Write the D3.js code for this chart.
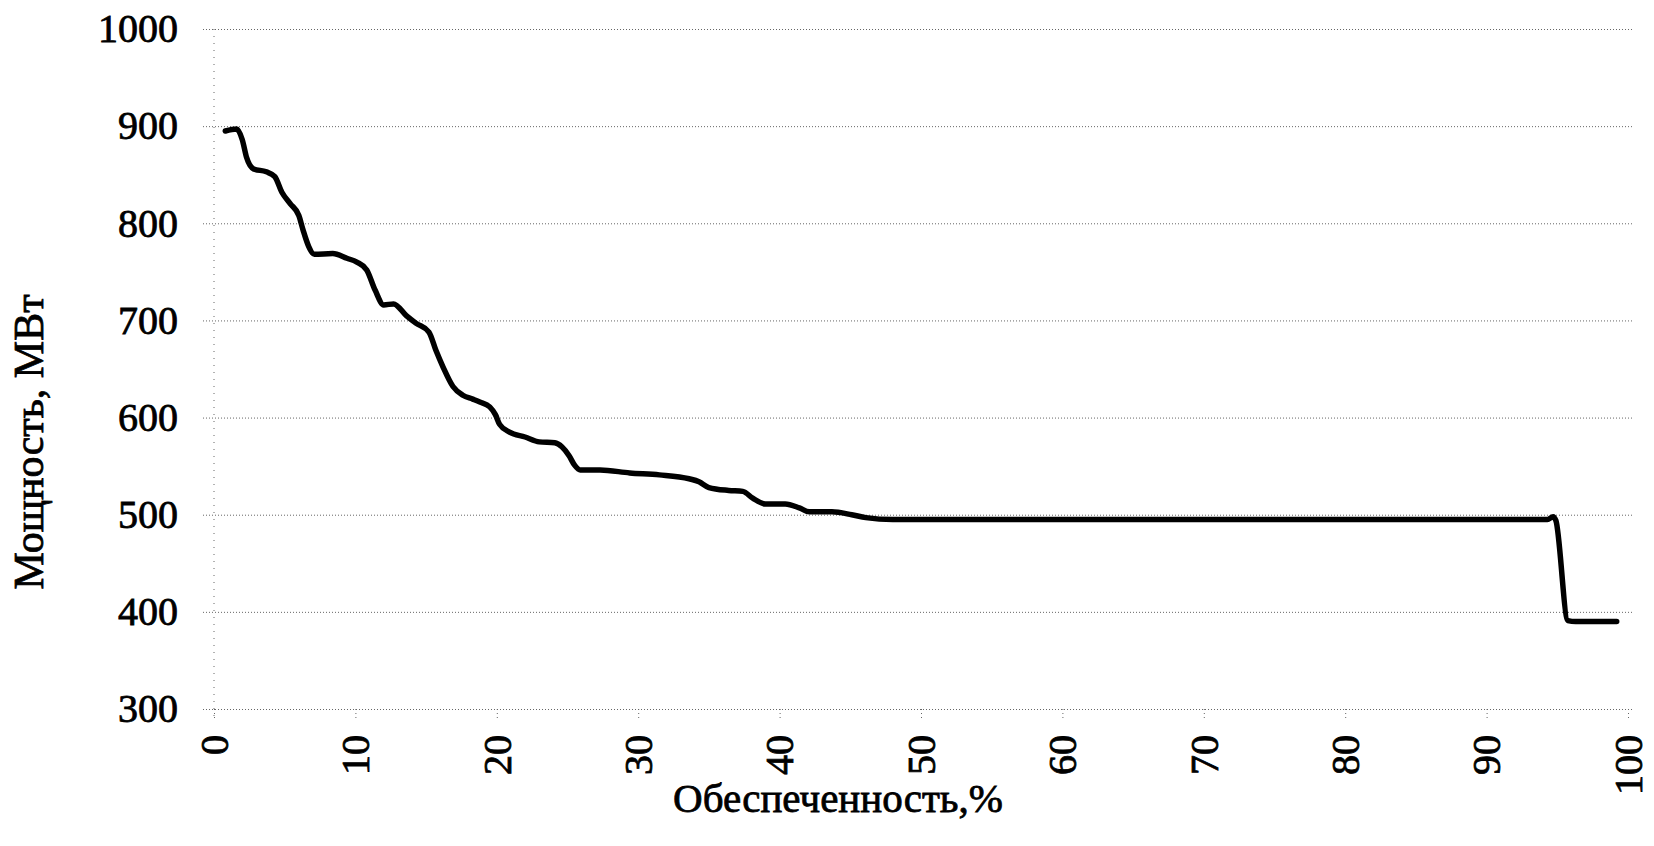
<!DOCTYPE html>
<meta charset="utf-8">
<html>
  <head>
    <!-- Load d3.js -->
    <script src="https://d3js.org/d3.v7.min.js"></script>
    <style>
      body { margin: 0; background: #fff; }
      text { font-family: "Liberation Serif", "Times New Roman", serif; fill: #000; stroke: #000; stroke-width: 0.8px; }
    </style>
  </head>
  <body>
    <svg id="viz" width=1654 height=846></svg>
    <script>
    // Обеспеченность, % (x) and Мощность, МВт (y)
    const supply = [0.8, 1.6, 2.0, 2.3, 2.8, 3.7, 4.3, 4.8, 5.4, 6.0, 6.3, 6.7, 7.1, 8.4, 9.4, 10.1, 10.8, 11.4, 12.0, 12.7,
                    13.6, 14.3, 15.2, 15.7, 16.2, 16.9, 17.6, 18.3, 18.8, 19.5, 19.9, 20.2, 20.9, 22.0, 23.0, 24.1, 24.6, 25.1, 25.5, 25.9,
                    27.3, 29.4, 31.5, 33.6, 34.3, 35.0, 36.4, 37.4, 38.1, 39.0, 40.4, 41.4, 42.1, 43.7, 45.1, 46.1, 48.0, 60.0, 80.0, 94.3,
                    94.7, 94.9, 95.75, 96.3, 99.2];
    const power  = [895, 897, 886, 868, 856, 853, 848, 832, 820, 808, 793, 776, 768, 769, 764, 760, 752, 731, 716, 717,
                    705, 697, 688, 669, 652, 632, 623, 619, 616, 611, 603, 593, 585, 580, 575, 574, 570, 561, 551, 546,
                    546, 543, 541, 537, 534, 528, 525, 524, 517, 511, 511, 507, 503, 503, 500, 497, 495, 495, 495, 495,
                    498, 494, 391, 390, 390];

    const yTicks = [300, 400, 500, 600, 700, 800, 900, 1000];
    const xTicks = [0, 10, 20, 30, 40, 50, 60, 70, 80, 90, 100];

    const xTitle = "Обеспеченность,%";
    const yTitle = "Мощность, МВт";

    var svg = d3.select("#viz");

    svg.append("rect").attr("width", 1654).attr("height", 846).attr("fill", "#fff");

    var x = d3.scaleLinear().domain([0, 100]).range([214, 1628]);
    var y = d3.scaleLinear().domain([300, 1000]).range([709, 29]);

    // horizontal grid + y labels
    var yAxis = svg.append("g")
        .attr("transform", "translate(203,0)")
        .call(d3.axisLeft(y)
            .tickValues(yTicks)
            .tickFormat(d3.format("d"))
            .tickSizeInner(-1429)
            .tickSizeOuter(0)
            .tickPadding(25));

    yAxis.select(".domain").remove();
    yAxis.selectAll(".tick line")
        .attr("stroke", "#666")
        .attr("stroke-width", 1)
        .attr("stroke-dasharray", "1,2");
    yAxis.selectAll(".tick text")
        .style("font-family", "Liberation Serif")
        .style("font-size", "40px")
        .attr("fill", "#000");

    // vertical dotted axis line at 0
    svg.append("line")
        .attr("x1", x(0)).attr("x2", x(0))
        .attr("y1", y(1000)).attr("y2", y(300) + 9)
        .attr("stroke", "#666")
        .attr("stroke-width", 1)
        .attr("stroke-dasharray", "1,6");

    // x axis with rotated labels
    var xAxis = svg.append("g")
        .attr("transform", "translate(0," + y(300) + ")")
        .call(d3.axisBottom(x)
            .tickValues(xTicks)
            .tickSizeInner(10)
            .tickSizeOuter(0));

    xAxis.select(".domain").remove();
    xAxis.selectAll(".tick line")
        .attr("stroke", "#666")
        .attr("stroke-dasharray", "1,3");
    xAxis.selectAll(".tick text")
        .style("font-family", "Liberation Serif")
        .style("font-size", "40px")
        .style("text-anchor", "end")
        .attr("fill", "#000")
        .attr("x", -26)
        .attr("y", 0)
        .attr("dy", "0.33em")
        .attr("transform", "rotate(-90)");

    // the curve
    var line = d3.line()
        .x(function(d, i) { return x(supply[i]); })
        .y(function(d) { return y(d); })
        .curve(d3.curveMonotoneX);

    svg.append("path")
        .datum(power)
        .attr("d", line)
        .attr("fill", "none")
        .attr("stroke", "#000")
        .attr("stroke-width", 5.5)
        .attr("stroke-linejoin", "round")
        .attr("stroke-linecap", "round");

    // axis titles
    svg.append("text")
        .attr("x", 838)
        .attr("y", 812)
        .attr("text-anchor", "middle")
        .style("font-size", "41px")
        .text(xTitle);

    svg.append("text")
        .attr("transform", "translate(43,442) rotate(-90)")
        .attr("text-anchor", "middle")
        .style("font-size", "42px")
        .text(yTitle);
    </script>
  </body>
</html>
